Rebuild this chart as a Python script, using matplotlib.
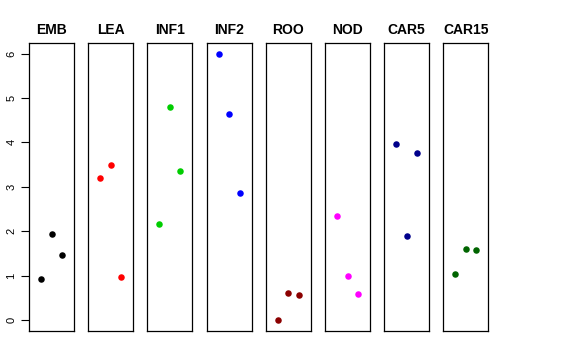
import matplotlib.pyplot as plt

groups = ['EMB', 'LEA', 'INF1', 'INF2', 'ROO', 'NOD', 'CAR5', 'CAR15']
colors = ['black', '#FF0000', '#00CD00', '#0000FF', '#8B0000', '#FF00FF', '#00008B', '#006400']
reps = [1, 2, 3]
values = [
    [0.93, 1.93, 1.46],
    [3.19, 3.49, 0.97],
    [2.16, 4.79, 3.35],
    [5.99, 4.64, 2.86],
    [0.00, 0.60, 0.57],
    [2.33, 0.98, 0.58],
    [3.97, 1.88, 3.76],
    [1.03, 1.59, 1.57],
]

plt.rcParams['font.family'] = ['Liberation Sans', 'DejaVu Sans']
fig = plt.figure(figsize=(5.76, 3.6), dpi=100)

left, bottom, height = 29 / 576, 1 - 331 / 360, (331 - 43.3) / 360
w, step = 45 / 576, 59.2 / 576

for i, g in enumerate(groups):
    ax = fig.add_axes([left + i * step, bottom, w, height])
    ax.scatter(reps, values[i], s=22, color=colors[i], zorder=3, linewidths=0)
    ax.set_xlim(-0.16, 4.16)
    ax.set_ylim(-0.25, 6.23)
    ax.set_xticks([])
    ax.set_title(g, fontsize=10, fontweight='bold', pad=7)
    for s in ax.spines.values():
        s.set_linewidth(0.9)
    if i == 0:
        ax.set_yticks(range(7))
        ax.tick_params(axis='y', length=6, width=0.8, labelsize=8, pad=3)
        for lab in ax.get_yticklabels():
            lab.set_rotation(90)
            lab.set_va('center')
    else:
        ax.set_yticks([])

fig.savefig('out.png', dpi=100)
